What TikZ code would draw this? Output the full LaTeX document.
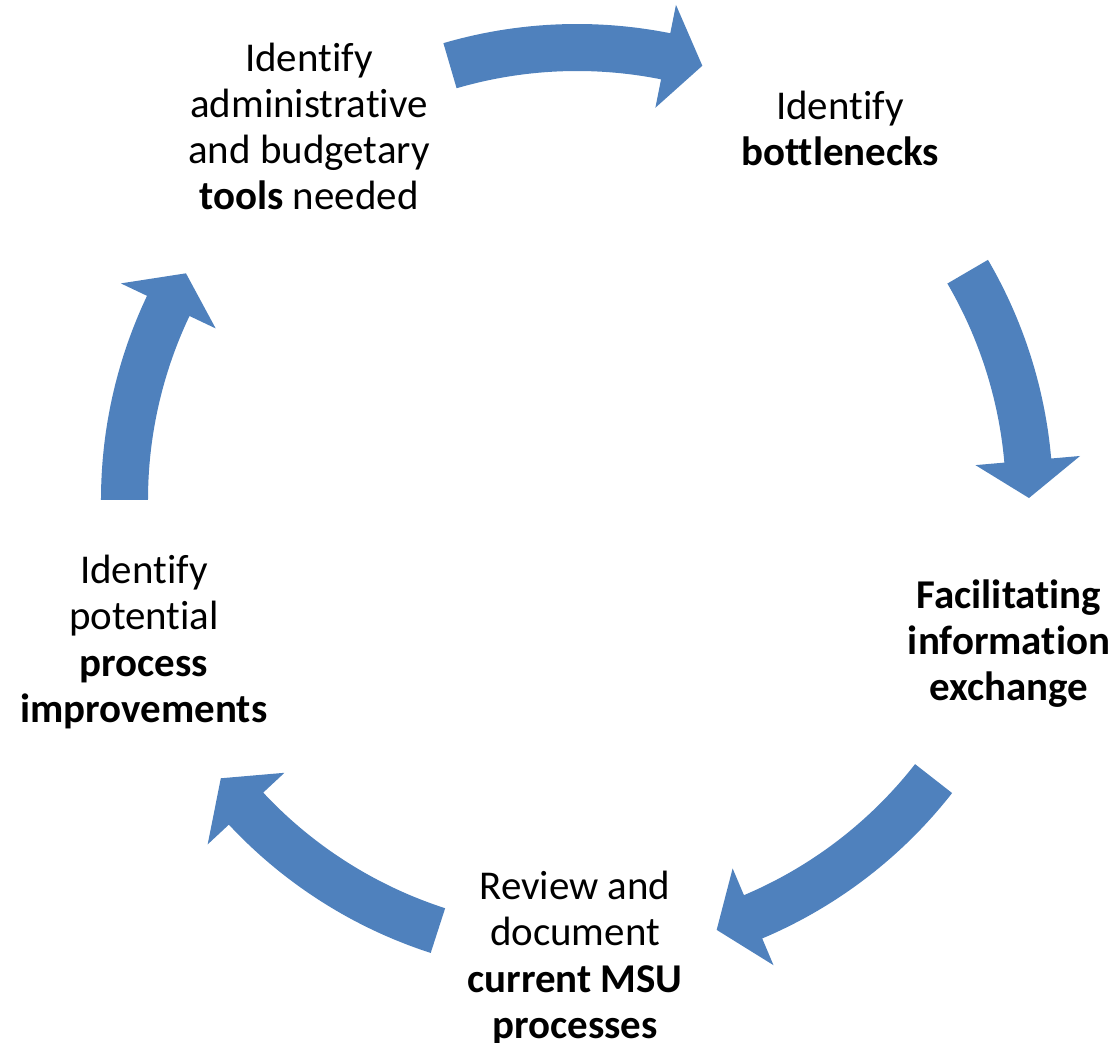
\documentclass[tikz,border=0pt]{standalone}
\usepackage{fontspec}
\setmainfont{Carlito}[Ligatures=NoCommon]
\definecolor{arrowblue}{HTML}{4F81BD}

\begin{document}
\begin{tikzpicture}[x=0.02cm, y=0.02cm,
        every node/.style={font=\fontsize{23.3}{26.2}\selectfont, align=center, inner sep=0},
        cyclearrow/.style={fill=arrowblue}]

        \useasboundingbox (-577, -543) rectangle (542, 500);

        \fill [cyclearrow] (106.3:476) arc [start angle=106.3, end angle=78.7, radius=476] -- (78.7:505) -- (73.9:452) -- (78.7:400) -- (78.7:429) arc [start angle=78.7, end angle=106.3, radius=429] -- cycle;
        \fill [cyclearrow] (30.3:476) arc [start angle=30.3, end angle=5, radius=476] -- (5:505) -- (0.25:452) -- (5:400) -- (5:429) arc [start angle=5, end angle=30.3, radius=429] -- cycle;
        \fill [cyclearrow] (-38:476) arc [start angle=-38, end angle=-67.1, radius=476] -- (-67.1:505) -- (-72:452) -- (-67.1:400) -- (-67.1:429) arc [start angle=-67.1, end angle=-38, radius=429] -- cycle;
        \fill [cyclearrow] (-107.9:476) arc [start angle=-107.9, end angle=-137, radius=476] -- (-137:505) -- (-142:452) -- (-137:400) -- (-137:429) arc [start angle=-137, end angle=-107.9, radius=429] -- cycle;
        \fill [cyclearrow] (180:476) arc [start angle=180, end angle=154.6, radius=476] -- (154.6:505) -- (149.9:452) -- (154.6:400) -- (154.6:429) arc [start angle=154.6, end angle=180, radius=429] -- cycle;

        \node (tools) at (-268, 374) {Identify\\administrative\\and budgetary\\\textbf{tools} needed};
        \node (bottlenecks) at (263, 372) {Identify\\\textbf{bottlenecks}};
        \node (exchange) at (432, -144) {\textbf{Facilitating}\\\textbf{information}\\\textbf{exchange}};
        \node (review) at (-2, -458) {Review and\\document\\\textbf{current MSU}\\\textbf{processes}};
        \node (improvements) at (-433, -142) {Identify\\potential\\\textbf{process}\\\textbf{improvements}};

    \end{tikzpicture}
\end{document}
